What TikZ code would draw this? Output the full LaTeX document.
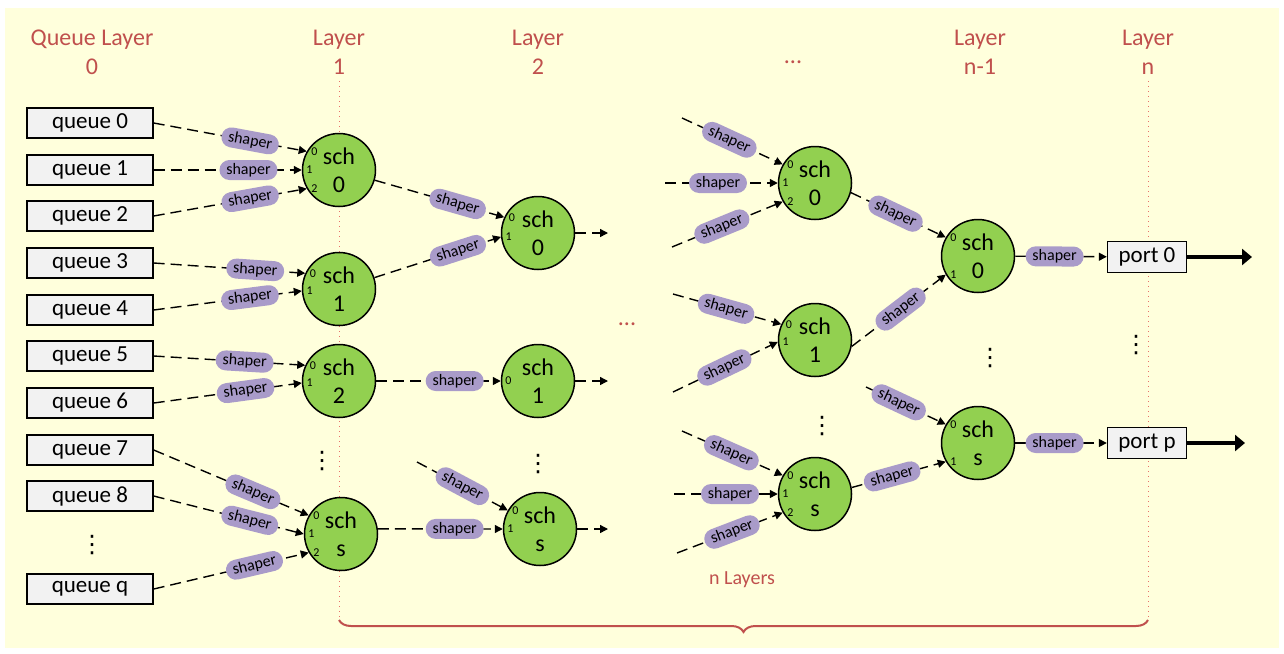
\documentclass[tikz,border=0pt]{standalone}
\usepackage{fontspec}
\setmainfont{Carlito}
\newfontfamily\dotsfont{DejaVu Sans}
\usepackage{tikz}
\usetikzlibrary{arrows.meta,decorations.pathreplacing}
\definecolor{paper}{HTML}{FFFFDC}
\definecolor{schgreen}{HTML}{92D050}
\definecolor{shaperpurple}{HTML}{A99BC9}
\definecolor{boxgray}{HTML}{F2F2F2}
\definecolor{layerred}{HTML}{C0504D}
\definecolor{guidered}{HTML}{E8706A}

\begin{document}
\begin{tikzpicture}[
  x=0.5pt, y=-0.5pt,
  title/.style={text=layerred, align=center, font=\fontsize{12}{14.5}\selectfont},
  queue/.style={draw, fill=boxgray, line width=0.7pt, minimum width=63pt,
    minimum height=15pt, inner sep=0pt, font=\fontsize{11.5}{13}\selectfont},
  port/.style={queue, minimum width=39.5pt, minimum height=15.5pt},
  sch/.style={circle, draw, fill=schgreen, line width=0.75pt, minimum size=36.5pt,
    inner sep=0pt, align=center, font=\fontsize{12}{14}\selectfont},
  shaper/.style={fill=shaperpurple, rounded corners=5pt, sloped, minimum width=29pt,
    minimum height=10pt, inner sep=0pt, font=\fontsize{8}{9}\selectfont},
  pnum/.style={anchor=west, inner sep=2pt, font=\fontsize{6}{7}\selectfont},
  vdots/.style={inner sep=0pt, font=\dotsfont\fontsize{12}{12}\selectfont},
  link/.style={-{Triangle[length=4pt,width=4pt]}, dash pattern=on 5.5pt off 3pt, line width=0.7pt},
  outflow/.style={-{Triangle[length=5pt,width=8pt]}, line width=2pt},
  guide/.style={guidered, dotted, line width=0.5pt}
]
\fill[white] (0,0) rectangle (1284,653);
\fill[paper] (5,8) rectangle (1279,648);

% layer headings and guides
\node[title] (t0) at (92,52) {Queue Layer\\0};
\node[title] (t1) at (339,52) {Layer\\1};
\node[title] (t2) at (538,52) {Layer\\2};
\node[title] (tdots) at (793,62) {...};
\node[title] (tn1) at (980,52) {Layer\\n-1};
\node[title] (tn) at (1148,52) {Layer\\n};
\coordinate (b1) at (339,620);
\coordinate (bn) at (1148,620);
\draw[guide] (t1.south) -- (b1);
\draw[guide] (tn.south) -- (bn);
\draw[layerred, line width=1pt, decorate, decoration={brace, mirror, amplitude=6pt}] (b1) -- (bn);
\node[title, font=\fontsize{10}{12}\selectfont] (nlayers) at (742,580) {n Layers};
\node[title] (mdots) at (627,324) {...};

% queues
\node[queue] (q0) at (90,123) {queue 0};
\node[queue] (q1) at (90,170) {queue 1};
\node[queue] (q2) at (90,216) {queue 2};
\node[queue] (q3) at (90,263) {queue 3};
\node[queue] (q4) at (90,310) {queue 4};
\node[queue] (q5) at (90,356) {queue 5};
\node[queue] (q6) at (90,403) {queue 6};
\node[queue] (q7) at (90,450) {queue 7};
\node[queue] (q8) at (90,496) {queue 8};
\node[vdots] (qdots) at (92,545) {⋮};
\node[queue] (qq) at (90,589) {queue q};

% schedulers
\node[sch] (la0) at (339,170) {sch\\0};
\node[sch] (la1) at (339,289) {sch\\1};
\node[sch] (la2) at (339,381) {sch\\2};
\node[vdots] (ladots) at (322,461) {⋮};
\node[sch] (las) at (341,534) {sch\\s};
\node[sch] (lb0) at (538,233) {sch\\0};
\node[sch] (lb1) at (538,381) {sch\\1};
\node[vdots] (lbdots) at (538,464) {⋮};
\node[sch] (lbs) at (540,529) {sch\\s};
\node[sch] (lc0) at (815,183) {sch\\0};
\node[sch] (lc1) at (815,340) {sch\\1};
\node[vdots] (lcdots) at (822,426) {⋮};
\node[sch] (lcs) at (815,494) {sch\\s};
\node[sch] (ld0) at (978,256) {sch\\0};
\node[vdots] (lddots) at (990,358) {⋮};
\node[sch] (lds) at (978,443) {sch\\s};

% ports
\node[port] (port0) at (1147,257) {port 0};
\node[vdots] (portdots) at (1136,345) {⋮};
\node[port] (portp) at (1147,443) {port p};

% loose ends
\coordinate (inb) at (417,462);
\coordinate (inc0) at (682,118);
\coordinate (inc1) at (665,183);
\coordinate (inc2) at (672,247);
\coordinate (inc3) at (673,294);
\coordinate (inc4) at (673,392);
\coordinate (inc5) at (682,431);
\coordinate (inc6) at (674,494);
\coordinate (inc7) at (677,553);
\coordinate (ind) at (866,387);
\coordinate (outb0) at (608,233);
\coordinate (outb1) at (608,381);
\coordinate (outbs) at (608,529);
\coordinate (out0) at (1252,257);
\coordinate (outp) at (1245,443);

% queues into layer 1
\draw[link] (q0.east) -- node[shaper, pos=.63] {shaper} (la0.150) node[pnum] {0};
\draw[link] (q1.east) -- node[shaper, pos=.64] {shaper} (la0.180) node[pnum] {1};
\draw[link] (q2.east) -- node[shaper, pos=.63] {shaper} (la0.210) node[pnum] {2};
\draw[link] (q3.east) -- node[shaper, pos=.67] {shaper} (la1.155) node[pnum] {0};
\draw[link] (q4.east) -- node[shaper, pos=.65] {shaper} (la1.183) node[pnum] {1};
\draw[link] (q5.east) -- node[shaper, pos=.6] {shaper} (la2.155) node[pnum] {0};
\draw[link] (q6.east) -- node[shaper, pos=.62] {shaper} (la2.183) node[pnum] {1};
\draw[link] (q7.east) -- node[shaper, pos=.64] {shaper} (las.150) node[pnum] {0};
\draw[link] (q8.east) -- node[shaper, pos=.64] {shaper} (las.180) node[pnum] {1};
\draw[link] (qq.east) -- node[shaper, pos=.65] {shaper} (las.210) node[pnum] {2};

% layer 1 into layer 2
\draw[link] (la0) -- node[shaper, pos=.64] {shaper} (lb0.155) node[pnum] {0};
\draw[link] (la1) -- node[shaper, pos=.66] {shaper} (lb0.186) node[pnum] {1};
\draw[link] (la2) -- node[shaper, pos=.63] {shaper} (lb1.180) node[pnum] {0};
\draw[link] (inb) -- node[shaper, pos=.5] {shaper} (lbs.150) node[pnum] {0};
\draw[link] (las.8) -- node[shaper, pos=.615] {shaper} (lbs.180) node[pnum] {1};
\draw[link] (lb0) -- (outb0);
\draw[link] (lb1) -- (outb1);
\draw[link] (lbs) -- (outbs);

% deeper layers
\draw[link] (inc0) -- node[shaper, pos=.47] {shaper} (lc0.150) node[pnum] {0};
\draw[link] (inc1) -- node[shaper, pos=.47] {shaper} (lc0.180) node[pnum] {1};
\draw[link] (inc2) -- node[shaper, pos=.45] {shaper} (lc0.210) node[pnum] {2};
\draw[link] (inc3) -- node[shaper, pos=.49] {shaper} (lc1.155) node[pnum] {0};
\draw[link] (inc4) -- node[shaper, pos=.49] {shaper} (lc1.183) node[pnum] {1};
\draw[link] (inc5) -- node[shaper, pos=.49] {shaper} (lcs.150) node[pnum] {0};
\draw[link] (inc6) -- node[shaper, pos=.54] {shaper} (lcs.180) node[pnum] {1};
\draw[link] (inc7) -- node[shaper, pos=.52] {shaper} (lcs.210) node[pnum] {2};
\draw[link] (lc0.-15) -- node[shaper, pos=.47] {shaper} (ld0.150) node[pnum] {0};
\draw[link] (lc1.-10) -- node[shaper, pos=.52] {shaper} (ld0.210) node[pnum] {1};
\draw[link] (ind) -- node[shaper, pos=.41] {shaper} (lds.150) node[pnum] {0};
\draw[link] (lcs.10) -- node[shaper, pos=.43] {shaper} (lds.210) node[pnum] {1};

% out to the ports
\draw[link] (ld0) -- node[shaper, pos=.43] {shaper} (port0);
\draw[link] (lds) -- node[shaper, pos=.43] {shaper} (portp);
\draw[outflow] (port0) -- (out0);
\draw[outflow] (portp) -- (outp);
\end{tikzpicture}
\end{document}
